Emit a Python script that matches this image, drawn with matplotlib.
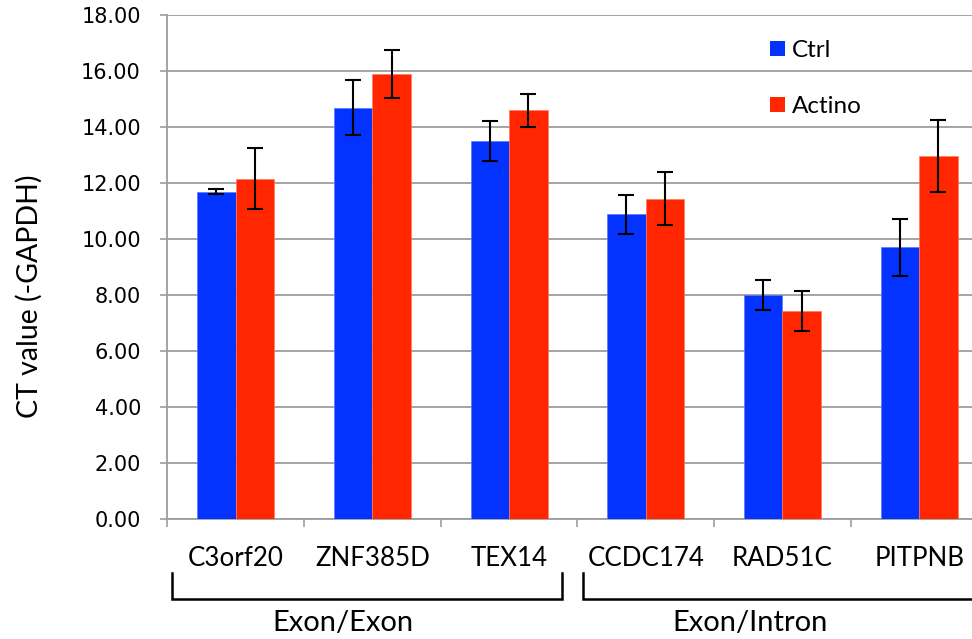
import matplotlib
matplotlib.use("Agg")
import matplotlib.pyplot as plt
import matplotlib.transforms as mtransforms
from matplotlib.patches import Patch
import numpy as np

categories = ['C3orf20', 'ZNF385D', 'TEX14', 'CCDC174', 'RAD51C', 'PITPNB']
ctrl = [11.69, 14.69, 13.50, 10.88, 7.99, 9.70]
ctrl_err = [0.10, 0.97, 0.70, 0.70, 0.53, 1.01]
actino = [12.15, 15.90, 14.60, 11.44, 7.42, 12.96]
actino_err = [1.10, 0.86, 0.59, 0.95, 0.73, 1.29]
series_names = ['Ctrl', 'Actino']
groups = ['Exon/Exon', 'Exon/Intron']
group_spans = [(-0.463, 2.389), (2.543, 5.40)]
group_label_x = [0.783, 3.76]
yticks = [0, 2, 4, 6, 8, 10, 12, 14, 16, 18]

BLUE = '#0433FF'
RED = '#FF2600'
GRID = '#9d9d9d'
LABEL_FONT = ['Lato', 'DejaVu Sans']
TICK_FONT = ['DejaVu Sans']

W, H = 972, 639
fig = plt.figure(figsize=(W / 100, H / 100), dpi=100)
left_px, right_px, top_px, bot_px = 167.3, 987.5, 15.0, 518.7
ax_w_px, ax_h_px = right_px - left_px, bot_px - top_px
ax = fig.add_axes([left_px / W, 1 - bot_px / H, ax_w_px / W, ax_h_px / H])

x = np.arange(len(categories))
bw = 0.282
ekw = dict(ecolor='black', elinewidth=1.5, capsize=5.8, capthick=1.5)
ax.bar(x - bw / 2, ctrl, bw, color=BLUE, edgecolor='#5a78ff', linewidth=0.5,
       yerr=ctrl_err, error_kw=ekw, zorder=3, label=series_names[0])
ax.bar(x + bw / 2, actino, bw, color=RED, edgecolor='#ff7a5e', linewidth=0.5,
       yerr=actino_err, error_kw=ekw, zorder=3, label=series_names[1])

ax.set_xlim(-0.5, len(categories) - 0.5)
ax.set_ylim(0, 18)
ax.set_yticks(yticks)
ax.set_yticklabels([f'{v:.2f}' for v in yticks], fontfamily=TICK_FONT, fontsize=15)
ax.yaxis.grid(True, color=GRID, linewidth=1.3, zorder=0)
ax.set_axisbelow(True)
ax.tick_params(axis='y', direction='out', length=5, width=1.2, color=GRID, pad=14)

ax.set_xticks(x)
ax.set_xticklabels(categories, fontfamily=LABEL_FONT, fontsize=18.6)
ax.tick_params(axis='x', which='major', length=0, pad=20)
ax.set_xticks(np.arange(len(categories) + 1) - 0.5, minor=True)
ax.tick_params(axis='x', which='minor', direction='out', length=6, width=1.2, color=GRID)

for s in ['top', 'right']:
    ax.spines[s].set_visible(False)
for s in ['left', 'bottom']:
    ax.spines[s].set_color(GRID)
    ax.spines[s].set_linewidth(1.3)

ax.set_ylabel('CT value (-GAPDH)', fontfamily=LABEL_FONT, fontsize=20.5)
ax.yaxis.set_label_coords((43 - left_px) / ax_w_px, (bot_px - 296) / ax_h_px)

# group brackets
trans = mtransforms.blended_transform_factory(ax.transData, ax.transAxes)
y_top = (bot_px - 573) / ax_h_px
y_bot = (bot_px - 599) / ax_h_px
y_txt = (bot_px - 623) / ax_h_px
for (x0, x1), name, lx in zip(group_spans, groups, group_label_x):
    ax.plot([x0, x0, x1, x1], [y_top, y_bot, y_bot, y_top], color='black', lw=1.8,
            transform=trans, clip_on=False, solid_joinstyle='miter')
    ax.text(lx, y_txt, name, transform=trans, ha='center', va='center',
            fontfamily=LABEL_FONT, fontsize=21)

handles = [Patch(facecolor=BLUE), Patch(facecolor=RED)]
fig.legend(handles, series_names, loc='upper left', bbox_to_anchor=(770 / W, 1 - 40 / H),
           frameon=False, prop={'family': LABEL_FONT, 'size': 17.5},
           handlelength=0.6, handleheight=0.6, handletextpad=0.3,
           labelspacing=1.45, borderpad=0, borderaxespad=0)

fig.savefig('out.png', dpi=100)
